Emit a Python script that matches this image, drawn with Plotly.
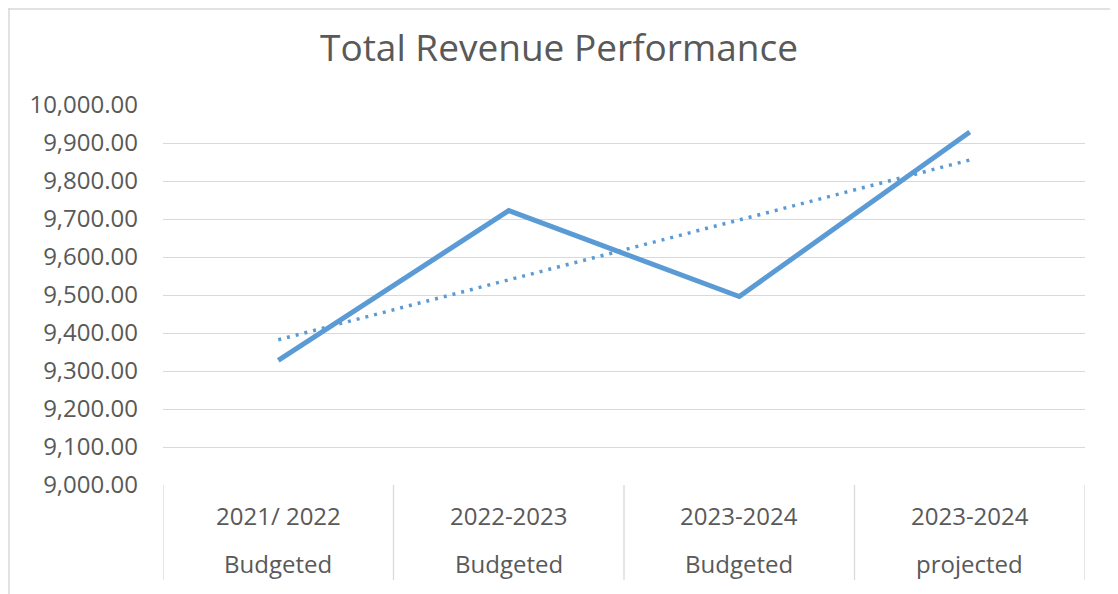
import numpy as np
import plotly.graph_objects as go

# Chart data
periods = ["2021/ 2022", "2022-2023", "2023-2024", "2023-2024"]
labels = ["Budgeted", "Budgeted", "Budgeted", "projected"]
revenue = [9328, 9722, 9496, 9929]
y_ticks = [9000, 9100, 9200, 9300, 9400, 9500, 9600, 9700, 9800, 9900, 10000]

# page body has an 8px margin, so the figure is a bit smaller than the window
W, H = 1110, 586
L, R, T, B = 155, 33, 97, 109
pw, ph = W - L - R, H - T - B

x = np.arange(len(revenue))
# linear trendline like Excel's
slope, icpt = np.polyfit(x, revenue, 1)
trend = slope * x + icpt

blue = "#5B9BD5"
grey_txt = "#595959"
grid = "#D9D9D9"
fnt = "Open Sans"

fig = go.Figure()
fig.add_trace(go.Scatter(x=x, y=revenue, mode="lines",
                         line=dict(color=blue, width=5), hoverinfo="skip"))
fig.add_trace(go.Scatter(x=x, y=trend, mode="lines",
                         line=dict(color=blue, width=3.5, dash="3px,6px"), hoverinfo="skip"))

# multi-level category axis: divider lines and two label rows
shapes = []
for b in np.arange(len(revenue) + 1) - 0.5:
    shapes.append(dict(type="line", xref="x", yref="paper", x0=b, x1=b,
                       y0=0, y1=-95 / ph, line=dict(color=grid, width=1.3)))
# chart border (top and left edges visible)
shapes.append(dict(type="line", xref="paper", yref="paper",
                   x0=-L / pw, x1=(W - L) / pw, y0=(H - B - 1) / ph, y1=(H - B - 1) / ph,
                   line=dict(color=grid, width=1.5)))
shapes.append(dict(type="line", xref="paper", yref="paper",
                   x0=(-L + 1) / pw, x1=(-L + 1) / pw, y0=(H - B) / ph, y1=-B / ph,
                   line=dict(color=grid, width=1.5)))

annotations = []
for i, (p, lab) in enumerate(zip(periods, labels)):
    annotations.append(dict(x=i, y=0, xref="x", yref="paper", text=p, showarrow=False,
                            yanchor="middle", yshift=-30,
                            font=dict(family=fnt, size=24, color=grey_txt)))
    annotations.append(dict(x=i, y=0, xref="x", yref="paper", text=lab, showarrow=False,
                            yanchor="middle", yshift=-78,
                            font=dict(family=fnt, size=24, color=grey_txt)))

fig.update_layout(
    width=W, height=H, autosize=False,
    margin=dict(l=L, r=R, t=T, b=B),
    paper_bgcolor="white", plot_bgcolor="white",
    showlegend=False,
    title=dict(text="Total Revenue Performance", x=(559 - 8) / W, xanchor="center",
               xref="container", y=1 - 40 / H, yanchor="middle", yref="container",
               font=dict(family=fnt, size=37, color=grey_txt)),
    xaxis=dict(range=[-0.5, len(revenue) - 0.5], showgrid=False, zeroline=False,
               showticklabels=False, showline=False, fixedrange=True),
    yaxis=dict(range=[9000, 10000], tickvals=y_ticks, tickformat=",.2f",
               showgrid=True, gridcolor=grid, gridwidth=1.3, zeroline=False,
               showline=False, ticklabelstandoff=24,
               tickfont=dict(family=fnt, size=24, color=grey_txt)),
    shapes=shapes,
    annotations=annotations,
)

fig.write_html("out.html")
